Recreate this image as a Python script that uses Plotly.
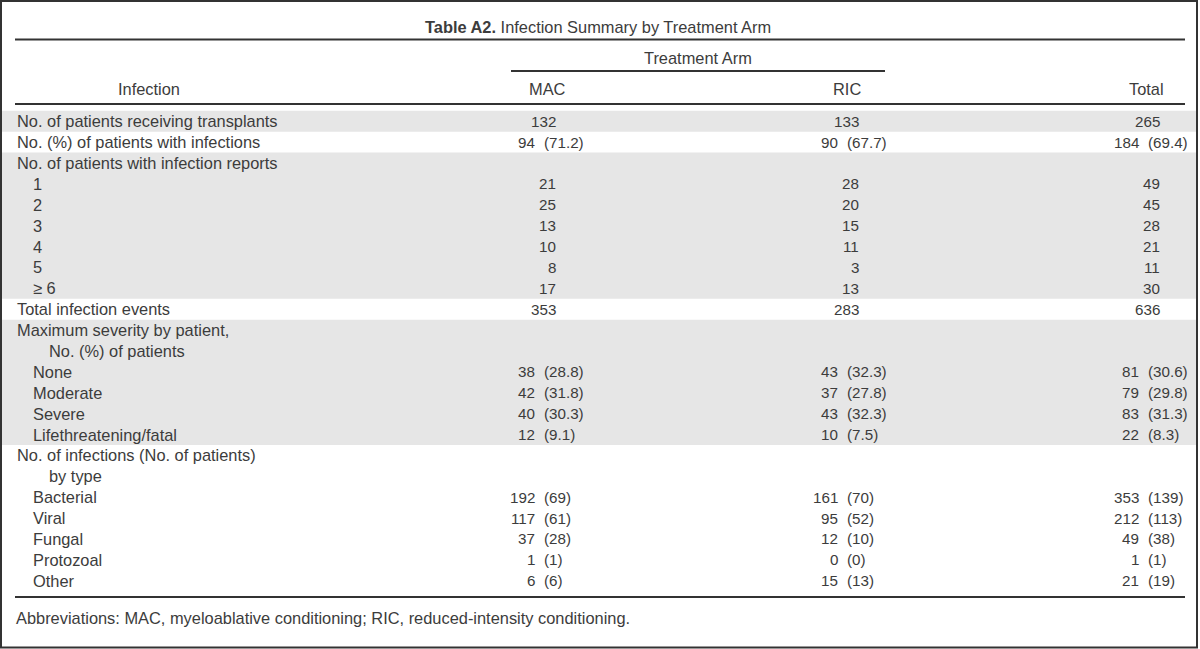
import plotly.graph_objects as go

# ---------------- data ----------------
title_bold = "Table A2."
title_rest = "Infection Summary by Treatment Arm"
group_header = "Treatment Arm"
col_headers = ["Infection", "MAC", "RIC", "Total"]

row_labels = [
    "No. of patients receiving transplants",
    "No. (%) of patients with infections",
    "No. of patients with infection reports",
    "1", "2", "3", "4", "5", "\u2265 6",
    "Total infection events",
    "Maximum severity by patient,",
    "No. (%) of patients",
    "None", "Moderate", "Severe", "Lifethreatening/fatal",
    "No. of infections (No. of patients)",
    "by type",
    "Bacterial", "Viral", "Fungal", "Protozoal", "Other",
]
row_indent = [0, 0, 0, 1, 1, 1, 1, 1, 1, 0, 0, 2, 1, 1, 1, 1, 0, 2, 1, 1, 1, 1, 1]
row_shaded = [1, 0, 1, 1, 1, 1, 1, 1, 1, 0, 1, 1, 1, 1, 1, 1, 0, 0, 0, 0, 0, 0, 0]

mac_values = ["132", "94 (71.2)", "", "21", "25", "13", "10", "8", "17", "353", "", "",
              "38 (28.8)", "42 (31.8)", "40 (30.3)", "12 (9.1)", "", "",
              "192 (69)", "117 (61)", "37 (28)", "1 (1)", "6 (6)"]
ric_values = ["133", "90 (67.7)", "", "28", "20", "15", "11", "3", "13", "283", "", "",
              "43 (32.3)", "37 (27.8)", "43 (32.3)", "10 (7.5)", "", "",
              "161 (70)", "95 (52)", "12 (10)", "0 (0)", "15 (13)"]
total_values = ["265", "184 (69.4)", "", "49", "45", "28", "21", "11", "30", "636", "", "",
                "81 (30.6)", "79 (29.8)", "83 (31.3)", "22 (8.3)", "", "",
                "353 (139)", "212 (113)", "49 (38)", "1 (1)", "21 (19)"]

footnote = "Abbreviations: MAC, myeloablative conditioning; RIC, reduced-intensity conditioning."

# ---------------- layout constants ----------------
W, H = 1200, 649
TXT = "#3c3c3c"
LINE = "#333333"
SHADE = "#e6e6e6"
FONT = "Liberation Sans, Arial, sans-serif"
FS = 16.4
NUM_FS = 15.2

ROW0 = 121.3
STEP = 20.88
INDENT = [15, 31, 47]
# plain-number right edge per value column
COL_RIGHT = [558, 861, 1162]

def row_y(i):
    return ROW0 + i * STEP

fig = go.Figure()
fig.add_trace(go.Scatter(x=[0, W], y=[0, H], mode="markers",
                         marker=dict(opacity=0), hoverinfo="skip", showlegend=False))

shapes = []
annotations = []

# shaded bands
i = 0
n = len(row_labels)
while i < n:
    if row_shaded[i]:
        j = i
        while j + 1 < n and row_shaded[j + 1]:
            j += 1
        shapes.append(dict(type="rect", xref="x", yref="y", x0=2, x1=1196,
                           y0=row_y(i) - STEP / 2, y1=row_y(j) + STEP / 2,
                           fillcolor=SHADE, line=dict(width=0), layer="below"))
        i = j + 1
    else:
        i += 1

def hline(x0, x1, y, w=2):
    shapes.append(dict(type="line", xref="x", yref="y", x0=x0, x1=x1, y0=y, y1=y,
                       line=dict(color=LINE, width=w)))

hline(15, 1185, 39.5, 2.2)
hline(511, 885, 71, 2)
hline(15, 1185, 104, 1.8)
hline(15, 1185, 597, 2)

# outer frame
shapes.append(dict(type="rect", xref="x", yref="y", x0=1, x1=1197, y0=1, y1=647.5,
                   line=dict(color=LINE, width=2), fillcolor="rgba(0,0,0,0)"))

def ann(text, x, y, xanchor="left", size=FS, color=TXT):
    annotations.append(dict(text=text, x=x, y=y, xref="x", yref="y",
                            xanchor=xanchor, yanchor="middle", showarrow=False,
                            font=dict(family=FONT, size=size, color=color)))

# title
ann("<b>" + title_bold + "</b> " + title_rest, 598, 26.5, "center", 16.4)
# headers
ann(group_header, 698, 57.5, "center")
ann(col_headers[0], 149, 88.5, "center")
ann(col_headers[1], 547.5, 88.5, "center")
ann(col_headers[2], 847, 88.5, "center")
ann(col_headers[3], 1166, 88.5, "right")

# rows
for r, label in enumerate(row_labels):
    y = row_y(r)
    ann(label, INDENT[row_indent[r]], y, "left")
    for c, vals in enumerate([mac_values, ric_values, total_values]):
        v = vals[r]
        if not v:
            continue
        right = COL_RIGHT[c]
        if "(" in v:
            num, par = v.split(" ", 1)
            ann(num, right - 21, y, "right", NUM_FS)
            ann(par, right - 16.5, y, "left", NUM_FS)
        else:
            ann(v, right, y, "right", NUM_FS)

ann(footnote, 14, 617.5, "left")

fig.update_layout(
    width=W, height=H,
    margin=dict(l=0, r=0, t=0, b=0),
    paper_bgcolor="white", plot_bgcolor="white",
    xaxis=dict(range=[0, W], visible=False, fixedrange=True),
    yaxis=dict(range=[H, 0], visible=False, fixedrange=True),
    shapes=shapes, annotations=annotations,
    showlegend=False,
)
fig.write_html(
    "out.html",
    config={"displayModeBar": False},
    post_script="document.body.style.margin='0px';document.body.style.overflow='hidden';",
)
